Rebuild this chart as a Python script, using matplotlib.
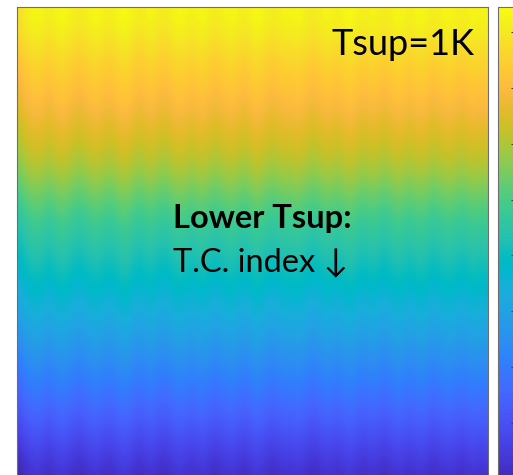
import numpy as np
import matplotlib.pyplot as plt
from matplotlib.colors import LinearSegmentedColormap

# T.C. index level per row, top to bottom
row_level = [8.2, 7.95, 7.6, 7.3, 7.05, 6.75, 6.45, 6.1, 5.7, 5.25, 4.85, 4.5,
             4.2, 3.9, 3.55, 3.25, 2.85, 2.45, 2.05, 1.7, 1.3, 0.85, 0.45, 0.1]
# vertical streaks, one value per column, left to right
col_streak = [-0.35, -0.05, 0.06, 0.14, 0.02, -0.1, 0.06, 0.16, 0.1, -0.04,
              -0.14, -0.05, 0.08, 0.14, 0.03, -0.07, 0.0, 0.16, 0.2, 0.06,
              -0.11, -0.04, 0.09, 0.02, -0.14, -0.08, 0.05, 0.15, 0.08, -0.03,
              0.04, 0.14, 0.0, -0.12, -0.03, 0.07, 0.12, 0.01, -0.1, 0.03,
              0.18, 0.1, -0.05, -0.11, 0.0, 0.08, 0.03, 0.14, 0.05, -0.08,
              -0.14, 0.0, 0.1, 0.04, -0.04, 0.11, 0.19, 0.07, -0.07, 0.0,
              0.08, -0.05, -0.11, 0.03, 0.14, 0.07, -0.03, 0.05, 0.15, 0.04,
              -0.1, -0.01, 0.08, 0.12, 0.0, -0.07, 0.04, 0.11, 0.03, 0.07]
cbar_ticks = [1, 2, 3, 4, 5, 6, 7, 8]
clim = (-0.2, 8.45)

panel_label = "Tsup=1K"
note_title = "Lower Tsup:"
note_body = "T.C. index \u2193"

# parula anchors, smoothed to 256 levels
parula = LinearSegmentedColormap.from_list('parula', [
    [0.2422, 0.1504, 0.6603], [0.2504, 0.1650, 0.7076], [0.2578, 0.1818, 0.7511],
    [0.2647, 0.1978, 0.7952], [0.2706, 0.2147, 0.8364], [0.2751, 0.2342, 0.8710],
    [0.2783, 0.2559, 0.8991], [0.2803, 0.2782, 0.9221], [0.2813, 0.3006, 0.9414],
    [0.2810, 0.3228, 0.9579], [0.2795, 0.3447, 0.9717], [0.2760, 0.3667, 0.9829],
    [0.2699, 0.3892, 0.9906], [0.2602, 0.4123, 0.9952], [0.2440, 0.4358, 0.9988],
    [0.2206, 0.4603, 0.9973], [0.1963, 0.4847, 0.9892], [0.1834, 0.5074, 0.9798],
    [0.1786, 0.5289, 0.9682], [0.1764, 0.5499, 0.9520], [0.1687, 0.5703, 0.9359],
    [0.1540, 0.5902, 0.9218], [0.1460, 0.6091, 0.9079], [0.1380, 0.6276, 0.8973],
    [0.1248, 0.6459, 0.8883], [0.1113, 0.6635, 0.8763], [0.0952, 0.6798, 0.8598],
    [0.0689, 0.6948, 0.8394], [0.0297, 0.7082, 0.8163], [0.0036, 0.7203, 0.7917],
    [0.0067, 0.7312, 0.7660], [0.0433, 0.7411, 0.7394], [0.0964, 0.7500, 0.7120],
    [0.1408, 0.7584, 0.6842], [0.1717, 0.7670, 0.6554], [0.1938, 0.7758, 0.6251],
    [0.2161, 0.7843, 0.5923], [0.2470, 0.7918, 0.5567], [0.2906, 0.7973, 0.5188],
    [0.3406, 0.8008, 0.4789], [0.3909, 0.8029, 0.4354], [0.4456, 0.8024, 0.3909],
    [0.5044, 0.7993, 0.3480], [0.5616, 0.7942, 0.3045], [0.6174, 0.7876, 0.2612],
    [0.6720, 0.7793, 0.2227], [0.7242, 0.7698, 0.1910], [0.7738, 0.7598, 0.1646],
    [0.8203, 0.7498, 0.1535], [0.8634, 0.7406, 0.1596], [0.9035, 0.7330, 0.1774],
    [0.9393, 0.7288, 0.2100], [0.9728, 0.7298, 0.2394], [0.9956, 0.7434, 0.2371],
    [0.9970, 0.7659, 0.2199], [0.9952, 0.7893, 0.2028], [0.9892, 0.8136, 0.1885],
    [0.9813, 0.8382, 0.1756], [0.9754, 0.8627, 0.1619], [0.9691, 0.8878, 0.1468],
    [0.9622, 0.9136, 0.1280], [0.9583, 0.9398, 0.1064], [0.9631, 0.9657, 0.0839],
    [0.9769, 0.9839, 0.0805]], N=256)

W, H = 513, 475

# axes rect from pixel box (left, top, right, bottom)
def px(l, t, r, b):
    return [l / W, 1 - b / H, (r - l) / W, (b - t) / H]

field = np.add.outer(row_level, col_streak)

fig = plt.figure(figsize=(W / 100, H / 100), dpi=100)
ax = fig.add_axes(px(16.5, 7, 488, 490))
im = ax.imshow(field, cmap=parula, vmin=clim[0], vmax=clim[1],
               aspect='auto', interpolation='bicubic')
ax.set_xticks([])
ax.set_yticks([])
for s in ax.spines.values():
    s.set_color('#6e6e6e')
    s.set_linewidth(0.8)

cax = fig.add_axes(px(498, 7, 514, 490))
cb = fig.colorbar(im, cax=cax)
cb.set_ticks(cbar_ticks)
cb.set_ticklabels([])
cax.tick_params(direction='in', length=2.5, width=0.8, color='#444444')
cb.outline.set_edgecolor('#6e6e6e')
cb.outline.set_linewidth(0.8)

fonts = ['Lato', 'DejaVu Sans']
fig.text(475 / W, 1 - 55 / H, panel_label, ha='right', va='baseline',
         fontsize=26, family=fonts)
fig.text(173 / W, 1 - 228 / H, note_title, ha='left', va='baseline',
         fontsize=23.5, fontweight='bold', family=fonts)
fig.text(173 / W, 1 - 271 / H, note_body, ha='left', va='baseline',
         fontsize=23.5, family=fonts)

fig.savefig('out.png', dpi=100)
